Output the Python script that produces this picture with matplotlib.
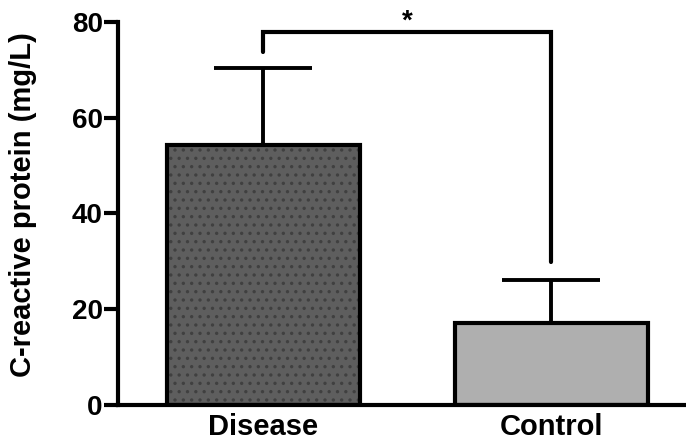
import matplotlib
matplotlib.use("Agg")
import matplotlib.pyplot as plt

categories = ["Disease", "Control"]
means = [54.3, 17.1]
errors = [16.1, 9.0]
fills = ["#5e5e5e", "#afafaf"]
bracket_top = 77.9
bracket_left_end = 73.7
bracket_right_end = 29.8
sig_label = "*"
y_ticks = [0, 20, 40, 60, 80]
y_label = "C-reactive protein (mg/L)"

plt.rcParams["font.family"] = ["Liberation Sans", "DejaVu Sans"]
plt.rcParams["hatch.linewidth"] = 1.2

fig = plt.figure(figsize=(6.86, 4.45), dpi=100)
ax = fig.add_axes([0.172, 0.0899, 0.828, 0.8607])

x = list(range(len(categories)))
bars = ax.bar(x, means, width=0.67, color=fills, edgecolor="black", linewidth=3, zorder=2)
bars[0].set_hatch("..")
bars[0]._hatch_color = (0.25, 0.25, 0.25, 1.0)

# upward-only error bars
ax.errorbar(x, means, yerr=[[0] * len(means), errors], fmt="none", ecolor="black",
            elinewidth=2.8, capsize=35, capthick=2.8, zorder=1)

# significance bracket
ax.plot([x[0], x[0], x[1], x[1]],
        [bracket_left_end, bracket_top, bracket_top, bracket_right_end],
        color="black", linewidth=3, solid_capstyle="round", solid_joinstyle="miter",
        clip_on=False)
ax.text((x[0] + x[1]) / 2, bracket_top - 0.5, sig_label, ha="center", va="bottom",
        fontsize=20, fontweight="bold")

ax.set_xlim(-0.505, 1.467)
ax.set_ylim(0, 80)
ax.set_yticks(y_ticks)
ax.set_yticklabels([str(t) for t in y_ticks], fontsize=20, fontweight="bold")
ax.set_xticks(x)
ax.set_xticklabels(categories, fontsize=21, fontweight="bold")
ax.tick_params(axis="x", length=0, pad=6)
ax.tick_params(axis="y", length=10, width=3, pad=1)
ax.set_ylabel(y_label, fontsize=21, fontweight="bold")
ax.yaxis.set_label_coords(-0.143, 0.523)

for s in ["top", "right"]:
    ax.spines[s].set_visible(False)
for s in ["left", "bottom"]:
    ax.spines[s].set_linewidth(3)

fig.savefig("out.png", dpi=100)
